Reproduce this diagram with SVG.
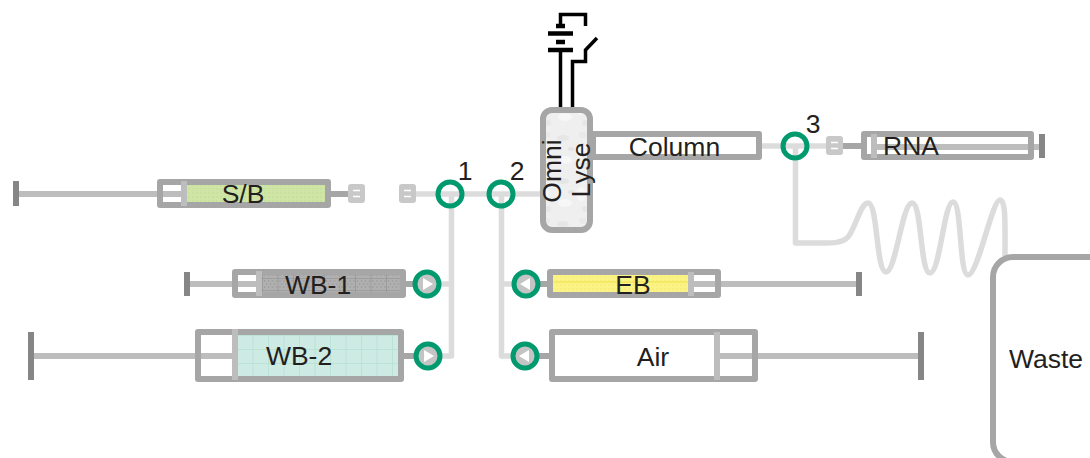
<svg xmlns="http://www.w3.org/2000/svg" width="1090" height="458" viewBox="0 0 1090 458">
<style>
.body{fill:none;stroke:#a6a6a6;stroke-width:6;stroke-linejoin:round}
.white{fill:#fff}
.rod{stroke:#bdbdbd;stroke-width:6;fill:none}
.sep{fill:#bdbdbd}
.hdl{fill:#868686}
.out{stroke:#a6a6a6;stroke-width:6;fill:none}
.tube{stroke:#dcdcdc;stroke-width:5.500;fill:none;stroke-linejoin:round}
.valve{fill:none;stroke:#009a6e;stroke-width:5}
.plug{fill:#c8c8c8}
.dash{stroke:#fff;stroke-width:1.500}
.wire{stroke:#000;stroke-width:3.500;fill:none}
.plate{stroke:#000;stroke-width:4.500;fill:none}
.hub{fill:#c4c4c4}
.tri{fill:#fff}
text{font-family:"Liberation Sans",Arial,sans-serif;font-size:26.500px;fill:#231f20;text-anchor:middle}
</style>
<defs>
<pattern id="pGreen" width="4" height="4" patternUnits="userSpaceOnUse"><rect width="4" height="4" fill="#cfe5a6"/><rect width="2" height="2" fill="#c9e09f"/></pattern>
<pattern id="pGrey" width="15.500" height="12" patternUnits="userSpaceOnUse" x="262" y="278"><rect width="15.500" height="12" fill="#b0b0b0"/><path d="M0 0H15.500M0 0V12" stroke="#8a8a8a" stroke-width="1" fill="none"/><path d="M2 3h1M6 3h1M10 3h1M14 3h1M4 6h1M8 6h1M12 6h1M2 9h1M6 9h1M10 9h1M14 9h1" stroke="#9a9a9a" stroke-width="2" fill="none"/></pattern>
<pattern id="pTeal" width="15.500" height="14" patternUnits="userSpaceOnUse" x="237" y="335"><rect width="15.500" height="14" fill="#cdeae3"/><path d="M0 0H15.500M0 0V14" stroke="#a9dccf" stroke-width="1" fill="none"/></pattern>
<pattern id="pYellow" width="4" height="4" patternUnits="userSpaceOnUse"><rect width="4" height="4" fill="#fbf386"/><rect width="2" height="2" fill="#f8ef7a"/></pattern>
<pattern id="pLyse" width="37" height="43" patternUnits="userSpaceOnUse"><rect width="37" height="43" fill="#efefef"/><ellipse cx="8" cy="9" rx="6" ry="3" fill="#e6e6e6"/><ellipse cx="26" cy="22" rx="5" ry="7" fill="#f6f6f6"/><ellipse cx="28" cy="6" rx="4" ry="3" fill="#e9e9e9"/><ellipse cx="10" cy="31" rx="7" ry="4" fill="#f7f7f7"/><ellipse cx="16" cy="20" rx="3" ry="2" fill="#e4e4e4"/><ellipse cx="30" cy="37" rx="3" ry="3" fill="#e7e7e7"/></pattern>
</defs>

<g id="connectors">
<path class="tube" d="M416 194H541"/>
<path class="tube" d="M451.500 194V356H428"/>
<path class="tube" d="M451.500 284H427"/>
<path class="tube" d="M501.500 194V356H525"/>
<path class="tube" d="M501.500 284H526"/>
<path class="tube" d="M762 146H828"/>
<path class="tube" d="M795.500 146V243H825C833 243 841 243 847 238C855 231 860 203 868 203C878 203 876 272 886 272C896 272 902 203 912 203C922 203 920 273 930 273C940 273 944 202 953 202C962 202 959 275 968 275C978 275 992 200 1000 200C1006 200 1005 225 1005 256"/>
<path class="out" d="M331 194H350"/>
<path class="out" d="M843 146H862"/>
<path class="out" d="M406 284H415"/>
<path class="out" d="M404 356H416"/>
<path class="out" d="M537 284H547"/>
<path class="out" d="M537 356H549"/>
<g id="electrical">
<path class="wire" d="M560.500 109V50"/>
<path class="plate" d="M548 50H573M556 42H565M548 33.500H573M556 26H565"/>
<path class="wire" d="M560.500 26V14.500H585.500V26"/>
<path class="wire" d="M572.500 109V61.500H585.500V50L597 38"/>
</g>
</g>

<g id="sb-syringe">
<rect class="white" x="160" y="182" width="168" height="23"/>
<rect x="186" y="185" width="141" height="18" fill="url(#pGreen)"/>
<path class="rod" d="M18 194H182"/>
<rect class="hdl" x="13" y="181" width="6" height="25"/>
<rect class="body" x="160" y="182" width="168" height="23"/>
<rect class="sep" x="181" y="181" width="6" height="25"/>
<text x="243" y="203">S/B</text>
</g>
<g id="plug-1"><rect class="plug" x="348" y="184" width="17" height="19" rx="3"/><path class="dash" d="M353 190.500H360M353 196.500H360"/></g>
<g id="plug-2"><rect class="plug" x="399" y="184" width="17" height="19" rx="3"/><path class="dash" d="M404 190.500H411M404 196.500H411"/></g>
<g id="valve-1"><circle class="valve" cx="450" cy="194" r="12"/><text x="465" y="180">1</text></g>
<g id="valve-2"><circle class="valve" cx="501" cy="194" r="12"/><text x="517" y="180">2</text></g>
<g id="valve-3"><circle class="valve" cx="795" cy="146" r="12"/><text x="813" y="133">3</text></g>

<g id="wb1-syringe">
<rect class="white" x="235" y="272" width="168" height="23"/>
<rect x="261" y="275" width="140" height="18" fill="url(#pGrey)"/>
<path class="rod" d="M186 284H257"/>
<rect class="hdl" x="184" y="272" width="6" height="24"/>
<rect class="body" x="235" y="272" width="168" height="23"/>
<rect class="sep" x="256" y="271" width="6" height="25"/>
<text x="318" y="294">WB-1</text>
</g>
<g id="wb1-valve"><circle class="hub" cx="427" cy="284" r="10"/><path class="tri" d="M423 278L433 284L423 290Z"/><circle class="valve" cx="427" cy="284" r="12"/></g>

<g id="wb2-syringe">
<rect class="white" x="198" y="332" width="203" height="47"/>
<rect x="237" y="335" width="162" height="42" fill="url(#pTeal)"/>
<path class="rod" d="M31 356H233"/>
<rect class="hdl" x="28" y="332" width="6" height="48"/>
<rect class="body" x="198" y="332" width="203" height="47"/>
<rect class="sep" x="232" y="329" width="6" height="51"/>
<text x="299" y="365">WB-2</text>
</g>
<g id="wb2-valve"><circle class="hub" cx="428" cy="356" r="10"/><path class="tri" d="M424 350L434 356L424 362Z"/><circle class="valve" cx="428" cy="356" r="12"/></g>

<g id="eb-syringe">
<rect class="white" x="550" y="272" width="168" height="23"/>
<rect x="553" y="275" width="136" height="18" fill="url(#pYellow)"/>
<path d="M553 282H689" stroke="#f2e04a" stroke-width="1"/>
<path class="rod" d="M693 284H858"/>
<rect class="hdl" x="856" y="272" width="6" height="24"/>
<rect class="body" x="550" y="272" width="168" height="23"/>
<rect class="sep" x="688" y="272" width="6" height="24"/>
<text x="633" y="294">EB</text>
</g>
<g id="eb-valve"><circle class="hub" cx="526" cy="284" r="10"/><path class="tri" d="M530 278L520 284L530 290Z"/><circle class="valve" cx="526" cy="284" r="12"/></g>

<g id="air-syringe">
<rect class="white" x="552" y="332" width="203" height="47"/>
<path class="rod" d="M719 356H920"/>
<rect class="hdl" x="918" y="332" width="6" height="48"/>
<rect class="body" x="552" y="332" width="203" height="47"/>
<rect class="sep" x="714" y="332" width="6" height="48"/>
<text x="653" y="366">Air</text>
</g>
<g id="air-valve"><circle class="hub" cx="525" cy="356" r="10"/><path class="tri" d="M529 350L519 356L529 362Z"/><circle class="valve" cx="525" cy="356" r="12"/></g>

<g id="column"><rect class="white" x="593" y="134" width="166" height="23"/><rect class="body" x="593" y="134" width="166" height="23"/><text x="674.500" y="156">Column</text></g>

<g id="omni-lyse">
<rect x="543" y="110" width="47" height="120" rx="9" fill="url(#pLyse)" stroke="#a6a6a6" stroke-width="6"/>
<text transform="translate(561 171) rotate(-90)">Omni</text>
<text transform="translate(590 170) rotate(-90)">Lyse</text>
</g>

<g id="rna-syringe">
<rect class="white" x="864" y="134" width="167" height="23"/>
<path class="rod" d="M876 147H1040"/>
<rect class="hdl" x="1039" y="134" width="6" height="24"/>
<rect class="body" x="864" y="134" width="167" height="23"/>
<rect class="sep" x="871" y="134" width="6" height="24"/>
<text x="911" y="155">RNA</text>
</g>
<g id="plug-3"><rect class="plug" x="826" y="136" width="17" height="19" rx="3"/><path class="dash" d="M831 142.500H838M831 148.500H838"/></g>

<g id="waste"><rect x="993" y="257" width="120" height="205" rx="20" fill="#fff" stroke="#a6a6a6" stroke-width="6"/><text x="1046" y="368">Waste</text></g>
</svg>
